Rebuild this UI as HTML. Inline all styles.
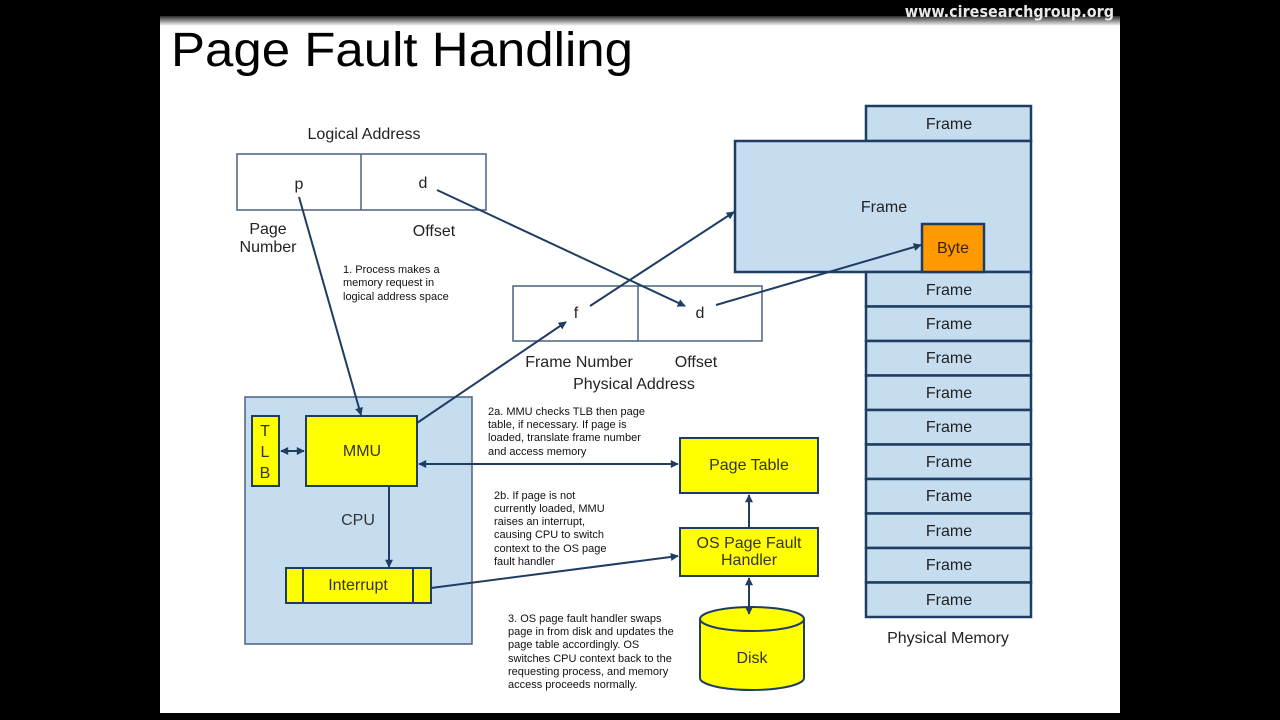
<!DOCTYPE html>
<html><head><meta charset="utf-8"><style>
html,body{margin:0;padding:0;background:#000;width:1280px;height:720px;overflow:hidden}
svg{display:block}
text{font-family:"Liberation Sans",sans-serif}
</style></head><body>
<svg width="1280" height="720" viewBox="0 0 1280 720">
<defs>
<marker id="a" viewBox="0 0 10 10" refX="9" refY="5" markerWidth="10" markerHeight="8" orient="auto-start-reverse" markerUnits="userSpaceOnUse"><path d="M0,0L10,5L0,10z" fill="#1f3d63"/></marker>
<linearGradient id="g" x1="0" y1="0" x2="0" y2="1"><stop offset="0" stop-color="#000"/><stop offset="1" stop-color="#fff"/></linearGradient>
</defs>
<rect x="0" y="0" width="1280" height="720" fill="#000"/>
<rect x="160" y="14" width="960" height="699" fill="#fff"/>
<rect x="160" y="14" width="960" height="12" fill="url(#g)"/>
<rect x="160" y="0" width="960" height="16" fill="#000"/>
<text x="1114" y="17" text-anchor="end" font-size="16" font-weight="bold" fill="#e8e8e8" style="font-family:'DejaVu Sans Condensed','DejaVu Sans',sans-serif">www.ciresearchgroup.org</text>
<text x="171" y="66" font-size="48" fill="#000" textLength="462" lengthAdjust="spacingAndGlyphs">Page Fault Handling</text>

<g stroke="#4a6282" stroke-width="1.5" fill="none">
<rect x="237" y="154" width="249" height="56"/>
<line x1="361" y1="154" x2="361" y2="210"/>
<rect x="513" y="286" width="249" height="55"/>
<line x1="638" y1="286" x2="638" y2="341"/>
</g>

<g stroke="#1f3d63" stroke-width="2.5" fill="#c6dcef">
<rect x="866" y="106" width="165" height="35"/>
<rect x="735" y="141" width="296" height="131"/>
<rect x="866" y="272" width="165" height="34.5"/>
<rect x="866" y="306.5" width="165" height="34.5"/>
<rect x="866" y="341" width="165" height="34.5"/>
<rect x="866" y="375.5" width="165" height="34.5"/>
<rect x="866" y="410" width="165" height="34.5"/>
<rect x="866" y="444.5" width="165" height="34.5"/>
<rect x="866" y="479" width="165" height="34.5"/>
<rect x="866" y="513.5" width="165" height="34.5"/>
<rect x="866" y="548" width="165" height="34.5"/>
<rect x="866" y="582.5" width="165" height="34.5"/>
<rect x="922" y="224" width="62" height="48" fill="#ff9900"/>
</g>
<g font-size="16" fill="#222" text-anchor="middle">
<text x="949" y="129">Frame</text>
<text x="884" y="212">Frame</text>
<text x="953" y="253" fill="#3a2200">Byte</text>
<text x="949" y="295">Frame</text>
<text x="949" y="329">Frame</text>
<text x="949" y="363">Frame</text>
<text x="949" y="398">Frame</text>
<text x="949" y="432">Frame</text>
<text x="949" y="467">Frame</text>
<text x="949" y="501">Frame</text>
<text x="949" y="536">Frame</text>
<text x="949" y="570">Frame</text>
<text x="949" y="605">Frame</text>
<text x="948" y="643">Physical Memory</text>
<text x="364" y="139">Logical Address</text>
<text x="299" y="189">p</text>
<text x="423" y="188">d</text>
<text x="268" y="234">Page</text>
<text x="268" y="252">Number</text>
<text x="434" y="236">Offset</text>
<text x="576" y="318">f</text>
<text x="700" y="318">d</text>
<text x="579" y="367">Frame Number</text>
<text x="696" y="367">Offset</text>
<text x="634" y="389">Physical Address</text>
</g>

<rect x="245" y="397" width="227" height="247" fill="#c6dcef" stroke="#4a6282" stroke-width="1.5"/>
<g stroke="#1f3d63" stroke-width="2" fill="#ffff00">
<rect x="252" y="416" width="27" height="70"/>
<rect x="306" y="416" width="111" height="70"/>
<rect x="286" y="568" width="145" height="35"/>
<line x1="303" y1="568" x2="303" y2="603"/>
<line x1="413" y1="568" x2="413" y2="603"/>
<rect x="680" y="438" width="138" height="55"/>
<rect x="680" y="528" width="138" height="48"/>
<path d="M700,619 L700,678 A52,12 0 0 0 804,678 L804,619 A52,12 0 0 0 700,619 A52,12 0 0 0 804,619"/>
</g>
<g font-size="16" fill="#333" text-anchor="middle">
<text x="265" y="436">T</text>
<text x="265" y="457">L</text>
<text x="265" y="478">B</text>
<text x="362" y="456">MMU</text>
<text x="358" y="525">CPU</text>
<text x="358" y="590">Interrupt</text>
<text x="749" y="470">Page Table</text>
<text x="749" y="548">OS Page Fault</text>
<text x="749" y="565">Handler</text>
<text x="752" y="663">Disk</text>
</g>

<g stroke="#1f3d63" stroke-width="2" fill="none">
<line x1="299" y1="197" x2="361" y2="415" marker-end="url(#a)"/>
<line x1="437" y1="190" x2="685" y2="306" marker-end="url(#a)"/>
<line x1="590" y1="306" x2="734" y2="212" marker-end="url(#a)"/>
<line x1="417" y1="423" x2="566" y2="322" marker-end="url(#a)"/>
<line x1="716" y1="305" x2="921" y2="245" marker-end="url(#a)"/>
<line x1="281" y1="451" x2="304" y2="451" marker-start="url(#a)" marker-end="url(#a)"/>
<line x1="419" y1="464" x2="678" y2="464" marker-start="url(#a)" marker-end="url(#a)"/>
<line x1="389" y1="486" x2="389" y2="567" marker-end="url(#a)"/>
<line x1="431" y1="588" x2="678" y2="556" marker-end="url(#a)"/>
<line x1="749" y1="528" x2="749" y2="495" marker-end="url(#a)"/>
<line x1="749" y1="578" x2="749" y2="614" marker-start="url(#a)" marker-end="url(#a)"/>
</g>

<g font-size="11" fill="#111">
<text x="343" y="273">1. Process makes a</text>
<text x="343" y="286">memory request in</text>
<text x="343" y="300">logical address space</text>
<text x="488" y="415">2a. MMU checks TLB then page</text>
<text x="488" y="428">table, if necessary. If page is</text>
<text x="488" y="441">loaded, translate frame number</text>
<text x="488" y="455">and access memory</text>
<text x="494" y="499">2b. If page is not</text>
<text x="494" y="512">currently loaded, MMU</text>
<text x="494" y="525">raises an interrupt,</text>
<text x="494" y="538">causing CPU to switch</text>
<text x="494" y="552">context to the OS page</text>
<text x="494" y="565">fault handler</text>
<text x="508" y="622">3. OS page fault handler swaps</text>
<text x="508" y="635">page in from disk and updates the</text>
<text x="508" y="648">page table accordingly. OS</text>
<text x="508" y="662">switches CPU context back to the</text>
<text x="508" y="675">requesting process, and memory</text>
<text x="508" y="688">access proceeds normally.</text>
</g>
</svg>
</body></html>
